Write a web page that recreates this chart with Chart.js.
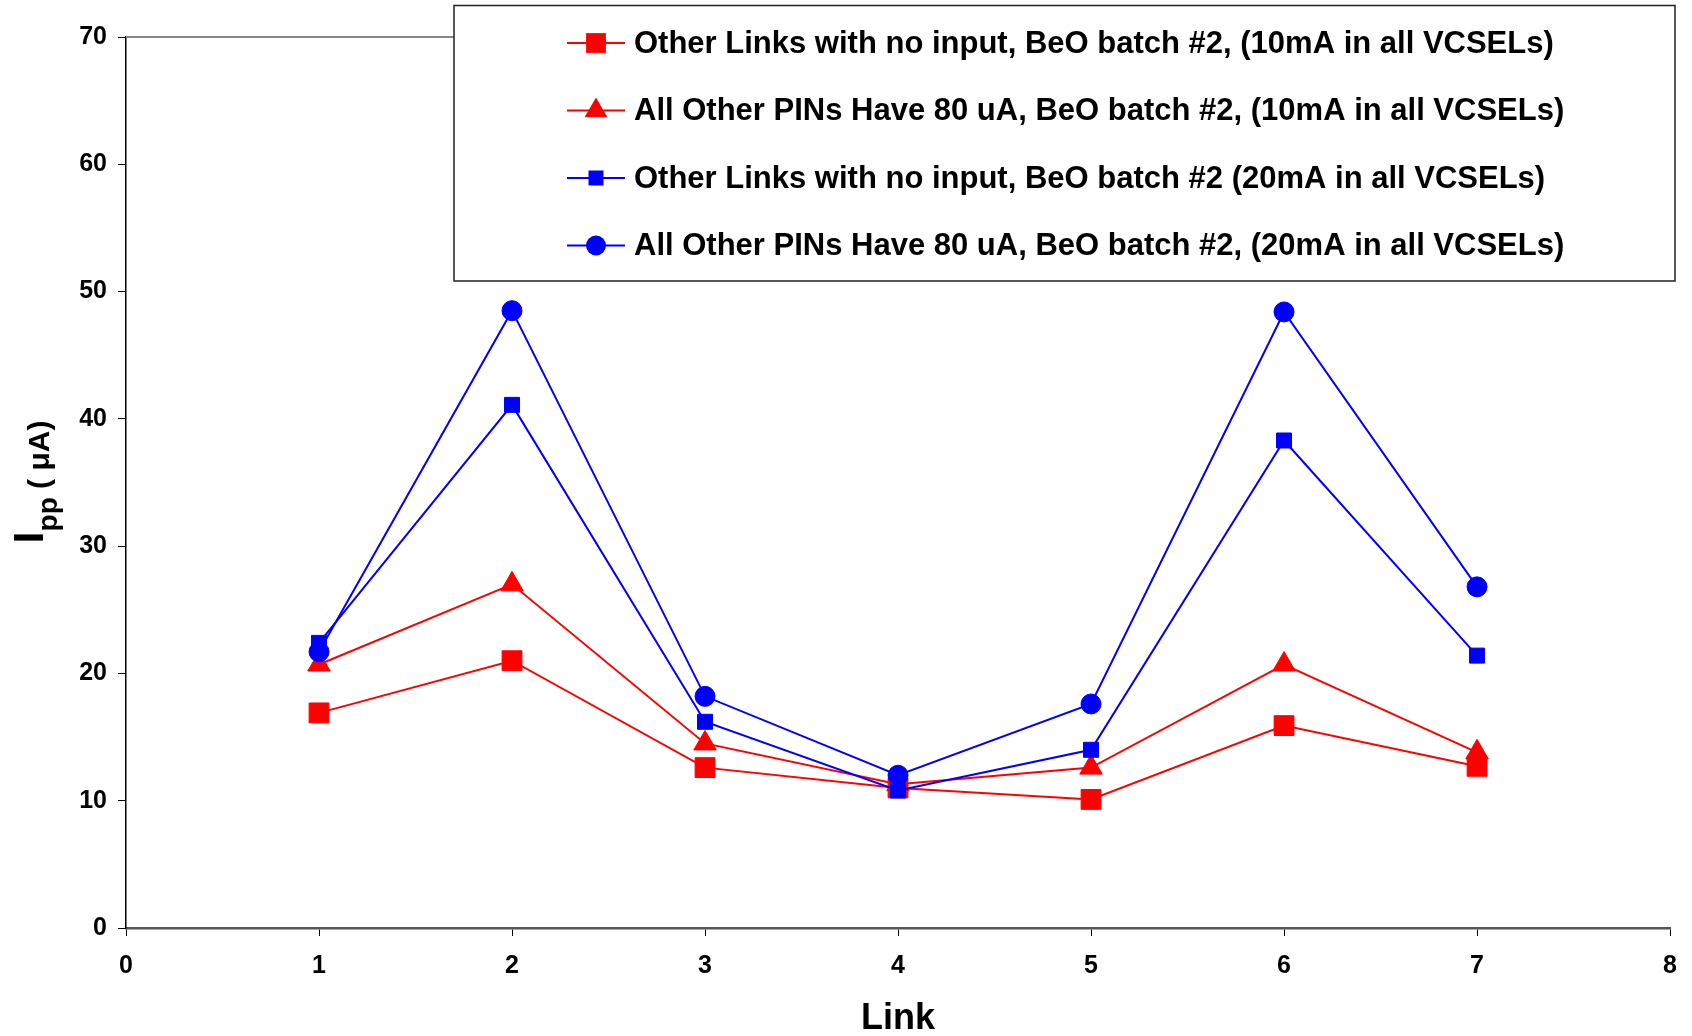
<!DOCTYPE html>
<html>
<head>
<meta charset="utf-8">
<script src="https://cdn.jsdelivr.net/npm/chart.js@4.4.0/dist/chart.umd.min.js"></script>
<style>
	html, body { margin: 0; padding: 0; background: #fff; }
	#wrap { width: 1692px; height: 1036px; }
</style>
</head>
<body>
<div id="wrap"><canvas id="chart" width="1692" height="1036"></canvas></div>
<script>
const links = [1, 2, 3, 4, 5, 6, 7]

const noInput10mA = [16.9, 21.0, 12.6, 11.0, 10.1, 15.9, 12.7]
const pins80uA10mA = [20.7, 27.0, 14.5, 11.3, 12.6, 20.7, 13.8]
const noInput20mA = [22.4, 41.1, 16.2, 10.8, 14.0, 38.3, 21.4]
const pins80uA20mA = [21.7, 48.5, 18.2, 12.0, 17.6, 48.4, 26.8]

const seriesLabels = [
	'Other Links with no input, BeO batch #2, (10mA in all VCSELs)',
	'All Other PINs Have 80 uA, BeO batch #2, (10mA in all VCSELs)',
	'Other Links with no input, BeO batch #2 (20mA in all VCSELs)',
	'All Other PINs Have 80 uA, BeO batch #2, (20mA in all VCSELs)',
]

const xTitle = 'Link'
const yTitleParts = ['I', 'pp', ' ( \u03bcA)']

const FONT = "'Liberation Sans', Arial, Helvetica, sans-serif"
const RED = '#ff0000'
const BLUE = '#0000ff'

const toPoints = (values) => values.map((y, i) => ({ x: links[i], y }))

const makeSeries = (label, values, color, pointStyle, radius, order) => ({
	label,
	data: toPoints(values),
	borderColor: color,
	backgroundColor: color,
	borderWidth: 2,
	pointStyle,
	pointRadius: radius,
	pointHoverRadius: radius,
	pointBorderWidth: 1,
	pointBackgroundColor: color,
	pointBorderColor: color,
	tension: 0,
	order,
})

const datasets = [
	makeSeries(seriesLabels[0], noInput10mA, RED, 'rect', 14, 3),
	makeSeries(seriesLabels[1], pins80uA10mA, RED, 'triangle', 13, 2),
	makeSeries(seriesLabels[2], noInput20mA, BLUE, 'rect', 10.6, 1),
	makeSeries(seriesLabels[3], pins80uA20mA, BLUE, 'circle', 10, 0),
]

// small marker painter for the legend
const drawMarker = (ctx, style, r, x, y, color) => {
	ctx.fillStyle = color
	ctx.beginPath()
	if (style === 'rect') {
		const s = r * Math.SQRT1_2
		ctx.rect(x - s, y - s, 2 * s, 2 * s)
	} else if (style === 'triangle') {
		ctx.moveTo(x, y - r)
		ctx.lineTo(x + r * Math.sin(Math.PI * 2 / 3), y + r / 2)
		ctx.lineTo(x - r * Math.sin(Math.PI * 2 / 3), y + r / 2)
		ctx.closePath()
	} else {
		ctx.arc(x, y, r, 0, Math.PI * 2)
	}
	ctx.fill()
}

const decorations = {
	id: 'decorations',
	beforeDatasetsDraw(chart) {
		const { ctx, chartArea } = chart
		const yTop = chart.scales.y.getPixelForValue(70)
		ctx.save()
		ctx.strokeStyle = '#888'
		ctx.lineWidth = 2
		ctx.beginPath()
		ctx.moveTo(chartArea.left, yTop)
		ctx.lineTo(chartArea.right, yTop)
		ctx.stroke()
		ctx.restore()
	},
	afterDraw(chart) {
		const { ctx, chartArea } = chart

		// legend box
		const box = { left: 454, top: 5.5, right: 1675, bottom: 281 }
		ctx.save()
		ctx.fillStyle = '#fff'
		ctx.fillRect(box.left, box.top, box.right - box.left, box.bottom - box.top)
		ctx.strokeStyle = '#222'
		ctx.lineWidth = 1.5
		ctx.strokeRect(box.left, box.top, box.right - box.left, box.bottom - box.top)

		const rowY = [43, 110.5, 178, 245.5]
		ctx.font = `bold 31px ${FONT}`
		ctx.textBaseline = 'middle'
		ctx.textAlign = 'left'
		chart.data.datasets.forEach((ds, i) => {
			const y = rowY[i]
			ctx.strokeStyle = ds.borderColor
			ctx.lineWidth = 2
			ctx.beginPath()
			ctx.moveTo(567, y)
			ctx.lineTo(625, y)
			ctx.stroke()
			drawMarker(ctx, ds.pointStyle, ds.pointRadius, 596, y, ds.borderColor)
			ctx.fillStyle = '#000'
			ctx.fillText(ds.label, 634, y + 1)
		})

		// x title
		ctx.font = `bold 36px ${FONT}`
		ctx.textAlign = 'center'
		ctx.textBaseline = 'middle'
		ctx.fillStyle = '#000'
		ctx.fillText(xTitle, (chartArea.left + chartArea.right) / 2, 1019)

		// y title, rotated, with subscript
		const fonts = [`bold 43px ${FONT}`, `bold 28px ${FONT}`, `bold 30px ${FONT}`]
		const shifts = [0, 14, 6]
		const widths = yTitleParts.map((t, i) => {
			ctx.font = fonts[i]
			return ctx.measureText(t).width
		})
		const total = widths.reduce((a, b) => a + b, 0)
		ctx.translate(43, 482)
		ctx.rotate(-Math.PI / 2)
		ctx.textAlign = 'left'
		ctx.textBaseline = 'alphabetic'
		let pos = -total / 2
		yTitleParts.forEach((t, i) => {
			ctx.font = fonts[i]
			ctx.fillText(t, pos, shifts[i])
			pos += widths[i]
		})
		ctx.restore()
	},
}

const context = document.getElementById('chart').getContext('2d')
const chart = new Chart(context, {
	type: 'line',
	data: { datasets },
	options: {
		responsive: false,
		animation: false,
		devicePixelRatio: 1,
		events: [],
		layout: {
			padding: { left: 0, right: 17, top: 37, bottom: 0 },
		},
		plugins: {
			legend: { display: false },
			tooltip: { enabled: false },
		},
		scales: {
			x: {
				type: 'linear',
				min: 0,
				max: 8,
				afterFit: (scale) => {
					scale.height = 108
				},
				ticks: {
					stepSize: 1,
					color: '#000',
					padding: 15,
					font: { family: FONT, size: 25, weight: 'bold' },
				},
				grid: {
					drawOnChartArea: false,
					drawTicks: true,
					tickLength: 8,
					tickColor: '#000',
					tickWidth: 1,
				},
				border: { display: true, color: '#555', width: 2.5 },
			},
			y: {
				min: 0,
				max: 70,
				afterFit: (scale) => {
					scale.width = 126
				},
				ticks: {
					stepSize: 10,
					color: '#000',
					padding: 11,
					font: { family: FONT, size: 25, weight: 'bold' },
				},
				grid: {
					drawOnChartArea: false,
					drawTicks: true,
					tickLength: 8,
					tickColor: '#000',
					tickWidth: 1,
				},
				border: { display: true, color: '#000', width: 1.5 },
			},
		},
	},
	plugins: [decorations],
})
</script>
</body>
</html>
